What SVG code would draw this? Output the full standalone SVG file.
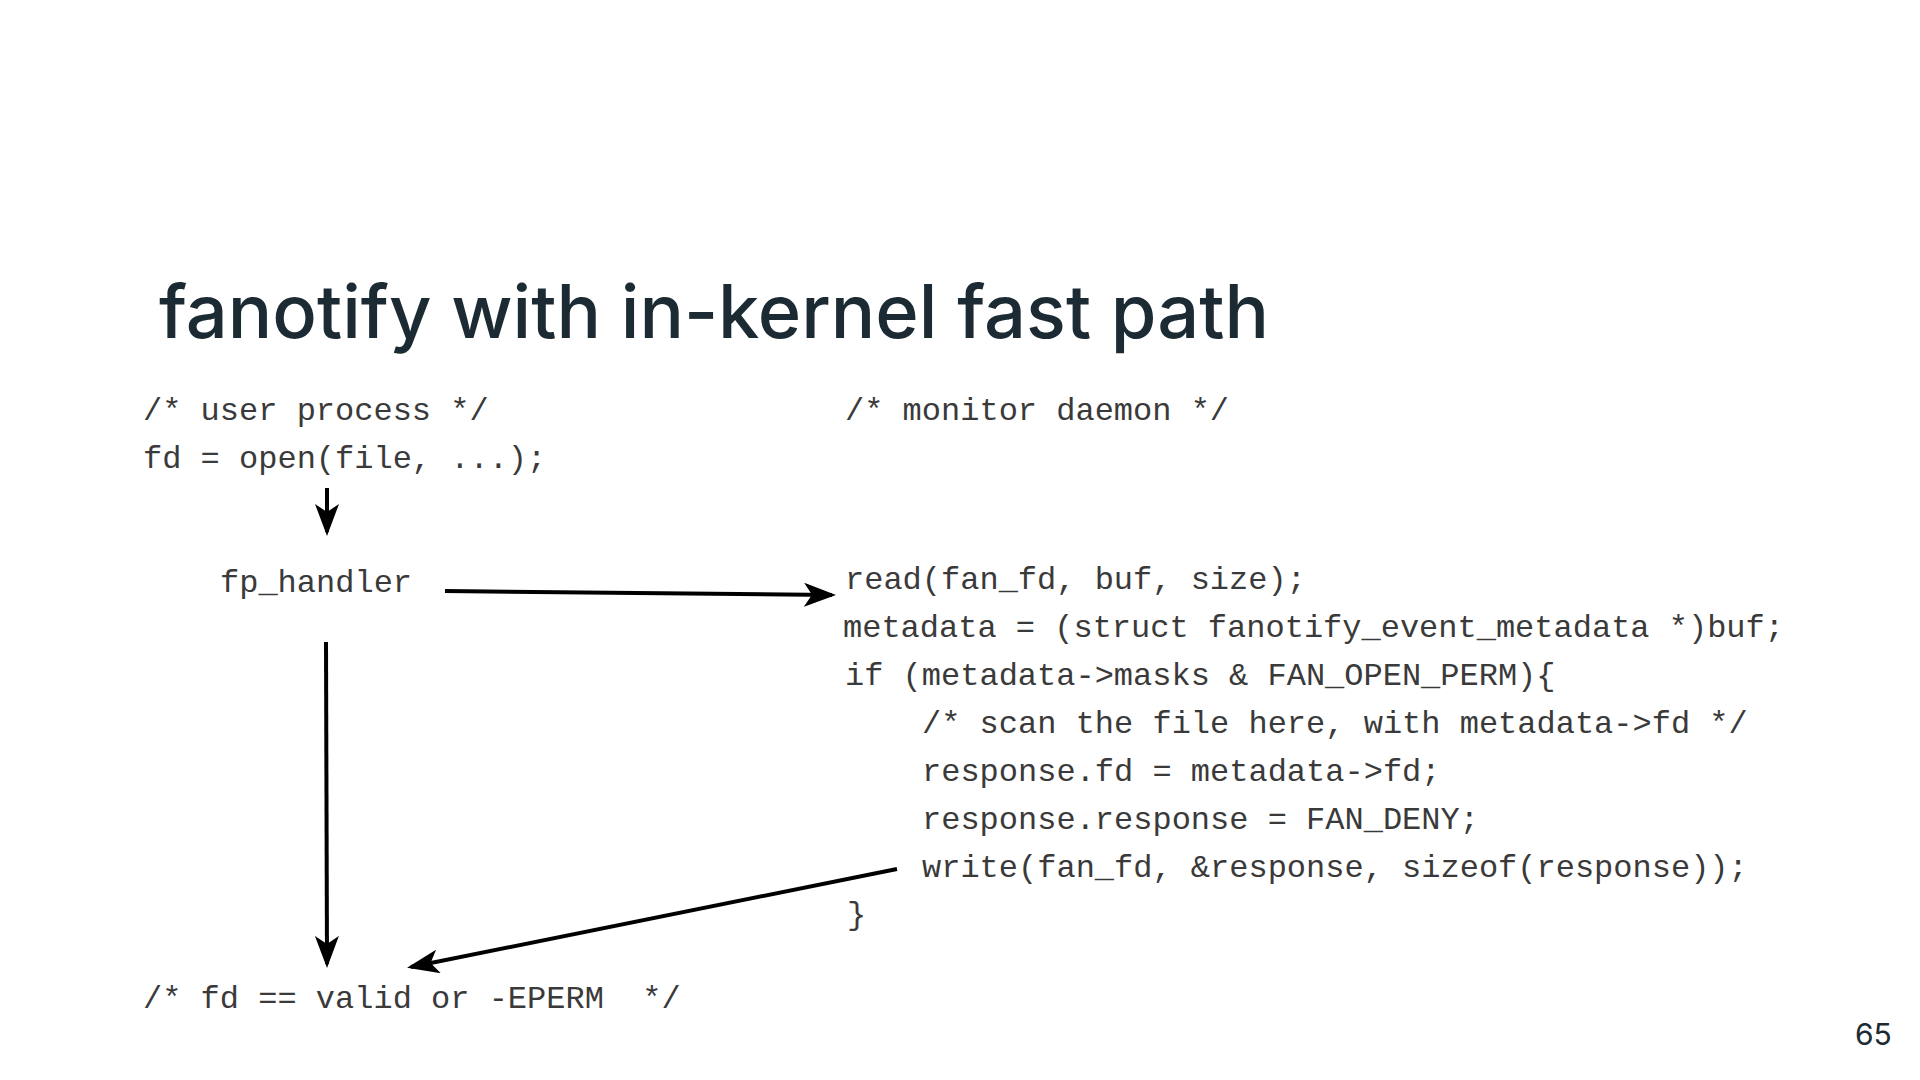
<svg xmlns="http://www.w3.org/2000/svg" width="1920" height="1080" viewBox="0 0 1920 1080">
<style>
.code{font-family:"Liberation Mono","Courier New",monospace;font-size:32px;fill:#3a3a3a}
.title{font-family:Inter,"Noto Sans",sans-serif;font-size:74px;font-weight:500;fill:#1c2b33}
.pg{font-family:Inter,"Noto Sans",sans-serif;font-size:30px;fill:#1c2b33}
.conn{stroke:#000;stroke-width:4;fill:none}
</style>
<defs>
<marker id="ah" markerWidth="8" markerHeight="6" refX="7" refY="3" orient="auto" markerUnits="strokeWidth">
<path d="M0,0 L8,3 L0,6 L2,3 Z" fill="#000"/>
</marker>
</defs>
<rect width="1920" height="1080" fill="#fff"/>
<text class="title" x="159" y="338">fanotify with in-kernel fast path</text>
<g id="user-process">
<text class="code" x="143" y="420">/* user process */</text>
<text class="code" x="143" y="468">fd = open(file, ...);</text>
</g>
<g id="fp-handler">
<text class="code" x="220" y="592">fp_handler</text>
</g>
<g id="result">
<text class="code" x="143" y="1008" xml:space="preserve">/* fd == valid or -EPERM  */</text>
</g>
<g id="monitor-daemon">
<text class="code" x="845" y="420">/* monitor daemon */</text>
</g>
<g id="daemon-code">
<text class="code" x="845" y="589">read(fan_fd, buf, size);</text>
<text class="code" x="843" y="637">metadata = (struct fanotify_event_metadata *)buf;</text>
<text class="code" x="845" y="685">if (metadata-&gt;masks &amp; FAN_OPEN_PERM){</text>
<text class="code" x="922" y="733">/* scan the file here, with metadata-&gt;fd */</text>
<text class="code" x="922" y="781">response.fd = metadata-&gt;fd;</text>
<text class="code" x="922" y="829">response.response = FAN_DENY;</text>
<text class="code" x="922" y="877">write(fan_fd, &amp;response, sizeof(response));</text>
<text class="code" x="847" y="924">}</text>
</g>
<g id="connectors">
<line class="conn" x1="327" y1="488" x2="327" y2="532" marker-end="url(#ah)"/>
<line class="conn" x1="445" y1="591" x2="832" y2="595" marker-end="url(#ah)"/>
<line class="conn" x1="326" y1="642" x2="327" y2="964" marker-end="url(#ah)"/>
<line class="conn" x1="897" y1="869" x2="411" y2="967" marker-end="url(#ah)"/>
</g>
<text class="pg" x="1855" y="1045">65</text>
</svg>
